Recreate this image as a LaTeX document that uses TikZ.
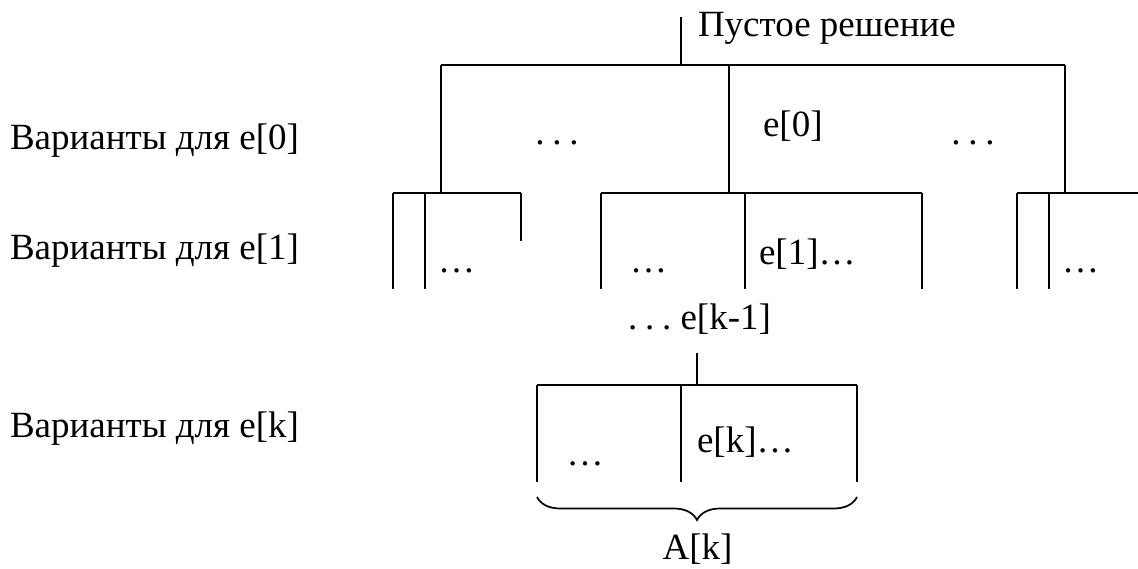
\documentclass[tikz,border=0pt]{standalone}
\usepackage{fontspec}
\setmainfont{Liberation Serif}
\usetikzlibrary{decorations.pathreplacing}
\newcommand\spdots{.\hspace{0.21em}.\hspace{0.21em}.}
\tikzset{
  lbl/.style={inner sep=0pt, outer sep=0pt, font=\fontsize{37}{44}\selectfont},
  ln/.style={line width=1.7pt, line cap=butt},
}
\begin{document}
\begin{tikzpicture}[x=1pt,y=-1pt]
\useasboundingbox (0,0) rectangle (1138,569);
% labels on the left
\node[lbl, anchor=base west] (v0) at (10,150) {Варианты для e[0]};
\node[lbl, anchor=base west] (v1) at (10,260) {Варианты для e[1]};
\node[lbl, anchor=base west] (vk) at (10,437) {Варианты для e[k]};
% root
\node[lbl, anchor=base west] (root) at (698,37) {Пустое решение};
\coordinate (r0) at (681,17);
\coordinate (r1) at (681,65);
\draw[ln] (r0) -- (r1);
% level 0
\coordinate (h0l) at (441,65);
\coordinate (h0r) at (1065,65);
\coordinate (m0) at (729,65);
\draw[ln] (h0l) -- (h0r);
\coordinate (a1) at (441,193);
\coordinate (b1) at (729,193);
\coordinate (c1) at (1065,193);
\draw[ln] (h0l) -- (a1);
\draw[ln] (m0) -- (b1);
\draw[ln] (h0r) -- (c1);
\node[lbl, anchor=base] (d0l) at (557,145) {\spdots};
\node[lbl, anchor=base west] (e0) at (763,137) {e[0]};
\node[lbl, anchor=base] (d0r) at (973,145) {\spdots};
% level 1, left group
\coordinate (la) at (393,193);
\coordinate (lb) at (425,193);
\coordinate (lc) at (521,193);
\draw[ln] (la) -- (lc);
\draw[ln] (la) -- (393,289);
\draw[ln] (lb) -- (425,289);
\draw[ln] (lc) -- (521,241);
\node[lbl, anchor=base] (d1a) at (456.5,273) {…};
% level 1, middle group
\coordinate (ma) at (601,193);
\coordinate (mb) at (745,193);
\coordinate (mc) at (922,193);
\draw[ln] (ma) -- (mc);
\draw[ln] (ma) -- (601,289);
\draw[ln] (mb) -- (745,289);
\draw[ln] (mc) -- (922,289);
\node[lbl, anchor=base] (d1b) at (648.5,273) {…};
\node[lbl, anchor=base west] (e1) at (759,265) {e[1]…};
% level 1, right group
\coordinate (ra) at (1017,193);
\coordinate (rb) at (1049,193);
\coordinate (rc) at (1138,193);
\draw[ln] (ra) -- (rc);
\draw[ln] (ra) -- (1017,289);
\draw[ln] (rb) -- (1049,289);
\node[lbl, anchor=base] (d1c) at (1080.5,273) {…};
% e[k-1]
\node[lbl, anchor=base west] (ek1) at (628,330) {\spdots\ e[k-1]};
\coordinate (k0) at (697,353);
\coordinate (k1) at (697,385);
\draw[ln] (k0) -- (k1);
% level k
\coordinate (ka) at (537,385);
\coordinate (kb) at (681,385);
\coordinate (kc) at (857,385);
\draw[ln] (ka) -- (kc);
\draw[ln] (ka) -- (537,482);
\draw[ln] (kb) -- (681,482);
\draw[ln] (kc) -- (857,482);
\node[lbl, anchor=base] (dk) at (585,465) {…};
\node[lbl, anchor=base west] (ek) at (697,452) {e[k]…};
% brace
\coordinate (bra) at (857,497);
\coordinate (brb) at (537,497);
\draw[line width=1.7pt, decorate, decoration={brace, amplitude=23pt}] (bra) -- (brb);
\node[lbl, anchor=base] (Ak) at (697.5,559) {A[k]};
\end{tikzpicture}
\end{document}
